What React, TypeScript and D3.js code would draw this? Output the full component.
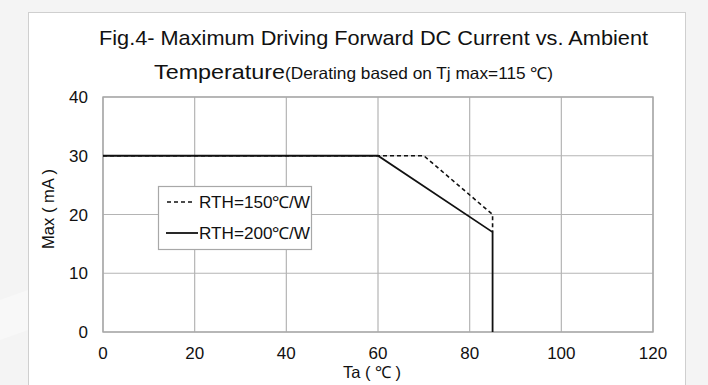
import React from "react";
import * as d3 from "d3";

const xTicks = [0, 20, 40, 60, 80, 100, 120];
const yTicks = [0, 10, 20, 30, 40];
const seriesNames = ["RTH=150℃/W", "RTH=200℃/W"];
const rth150: [number, number][] = [[0, 30], [70, 30], [85, 20], [85, 17]];
const rth200: [number, number][] = [[0, 30], [60, 30], [85, 17], [85, 0]];

const W = 708, H = 385;
const plot = { left: 103, right: 653, top: 97, bottom: 332 };
const FONT = "'Liberation Sans', Arial, sans-serif";

export default function App() {
  const x = d3.scaleLinear().domain([0, 120]).range([plot.left, plot.right]);
  const y = d3.scaleLinear().domain([0, 40]).range([plot.bottom, plot.top]);
  const line = d3.line<[number, number]>().x(d => x(d[0])).y(d => y(d[1]));
  const grid = "#b4b4b4";
  return (
    <svg width={W} height={H} style={{ position: "absolute", left: 0, top: 0 }} fontFamily={FONT}>
      <rect x={0} y={0} width={W} height={H} fill="#f4f4f4" />
      <path d={`M0,300 L28,290 L28,330 L0,340 Z`} fill="#f8f8f8" />
      <rect x={28.5} y={12.5} width={657} height={390} fill="#ffffff" stroke="#cfcfcf" strokeWidth={1} />
      {/* grid */}
      {xTicks.map(t => (
        <line key={"gx" + t} x1={x(t)} x2={x(t)} y1={plot.top} y2={plot.bottom} stroke={grid} strokeWidth={1.2} />
      ))}
      {yTicks.map(t => (
        <line key={"gy" + t} x1={plot.left} x2={plot.right} y1={y(t)} y2={y(t)} stroke={grid} strokeWidth={1.2} />
      ))}
      <rect x={plot.left} y={plot.top} width={plot.right - plot.left} height={plot.bottom - plot.top} fill="none" stroke="#a8a8a8" strokeWidth={1.4} />
      {/* tick labels */}
      {yTicks.map(t => (
        <text key={"ty" + t} x={88} y={y(t) + 6} textAnchor="end" fontSize={17} fill="#111">{t}</text>
      ))}
      {xTicks.map(t => (
        <text key={"tx" + t} x={x(t)} y={359} textAnchor="middle" fontSize={17} fill="#111">{t}</text>
      ))}
      {/* axis titles */}
      <text x={372} y={378} textAnchor="middle" fontSize={16.5} fill="#111">Ta ( ℃ )</text>
      <text transform="translate(54,209) rotate(-90)" textAnchor="middle" fontSize={16.5} fill="#111">Max ( mA )</text>
      {/* title */}
      <text x={99} y={45} fontSize={21} fill="#111" textLength={549} lengthAdjust="spacingAndGlyphs">Fig.4- Maximum Driving Forward DC Current vs. Ambient</text>
      <text x={154} y={79} fontSize={20.5} fill="#111">
        <tspan textLength={131} lengthAdjust="spacingAndGlyphs">Temperature</tspan>
        <tspan fontSize={16.5} textLength={268} lengthAdjust="spacingAndGlyphs">(Derating based on Tj max=115 ℃)</tspan>
      </text>
      {/* series */}
      <path d={line(rth150) || ""} fill="none" stroke="#111" strokeWidth={1.6} strokeDasharray="4,3" />
      <path d={line(rth200) || ""} fill="none" stroke="#111" strokeWidth={1.8} />
      {/* legend */}
      <rect x={158.5} y={186.5} width={153} height={63} fill="#fff" stroke="#a8a8a8" strokeWidth={1.2} />
      <line x1={167} x2={194} y1={202} y2={202} stroke="#111" strokeWidth={1.6} strokeDasharray="4,3" />
      <text x={199} y={208} fontSize={16.5} fill="#111" textLength={111} lengthAdjust="spacingAndGlyphs">{seriesNames[0]}</text>
      <line x1={166} x2={198} y1={233} y2={233} stroke="#111" strokeWidth={1.8} />
      <text x={199} y={239} fontSize={16.5} fill="#111" textLength={111} lengthAdjust="spacingAndGlyphs">{seriesNames[1]}</text>
    </svg>
  );
}
